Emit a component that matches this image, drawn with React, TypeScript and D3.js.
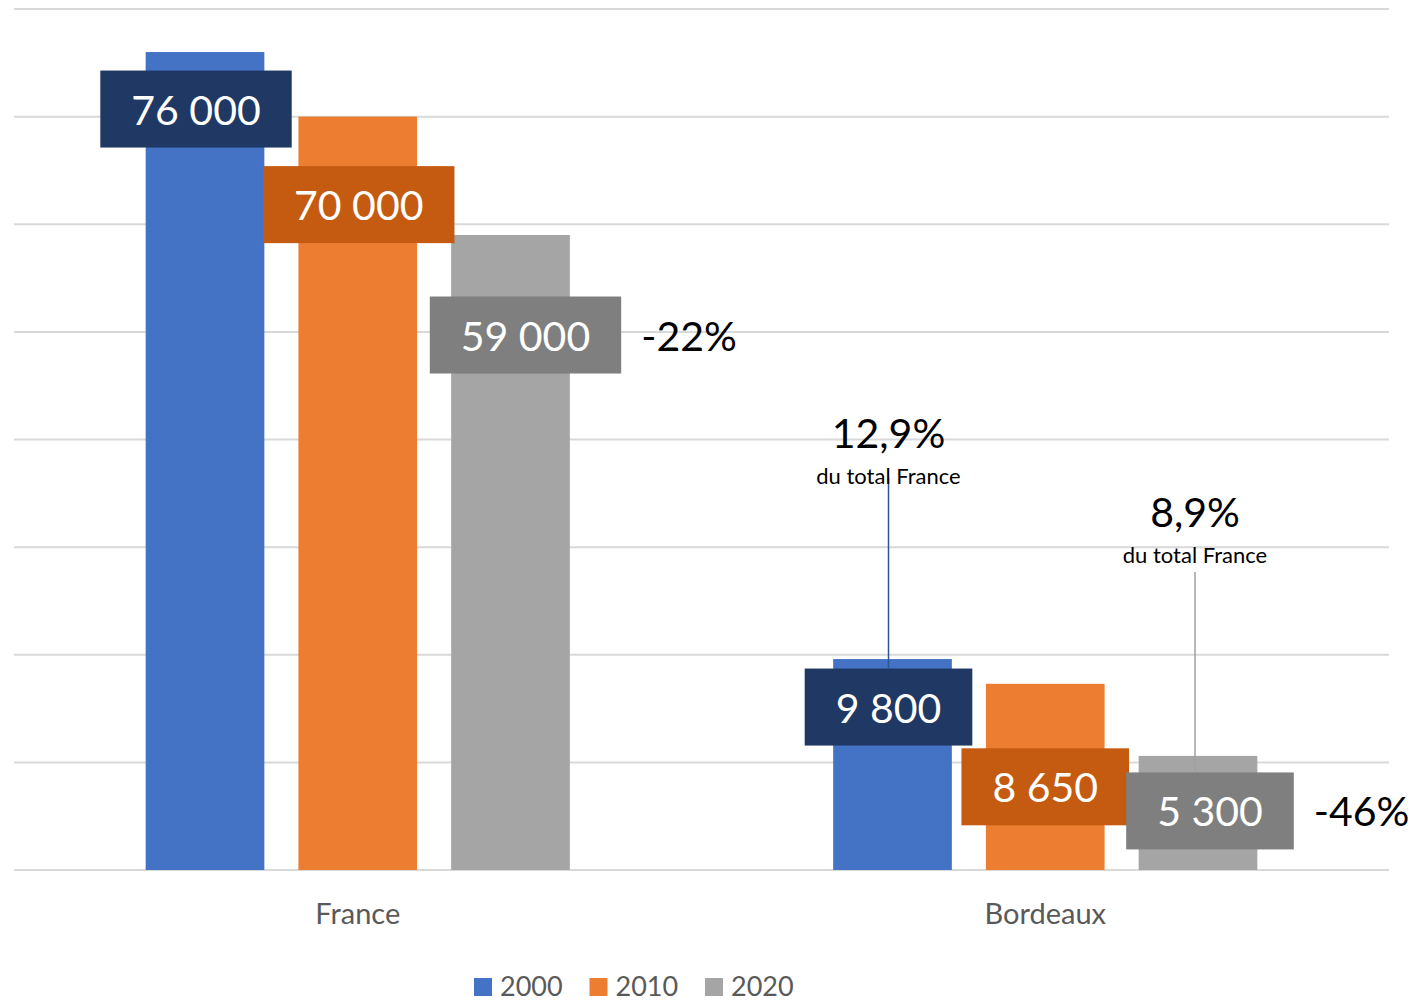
import React, { useEffect, useRef } from 'react';
import * as d3 from 'd3';

// Données
const categories = ['France', 'Bordeaux'];
const series = ['2000', '2010', '2020'];
const franceValues = [76000, 70000, 59000];
const bordeauxValues = [9800, 8650, 5300];
const valueLabels = [
  ['76 000', '70 000', '59 000'],
  ['9 800', '8 650', '5 300'],
];
const evolutionLabels = ['-22%', '-46%'];
const shareLabels = ['12,9%', '8,9%'];
const shareSubLabel = 'du total France';
const gridTicks = [0, 10000, 20000, 30000, 40000, 50000, 60000, 70000, 80000];

const barColors = ['#4472c4', '#ed7d31', '#a5a5a5'];
const boxColors = ['#203864', '#c55a11', '#7f7f7f'];
const FONT = 'Lato, "Open Sans", sans-serif';

// décalages manuels des étiquettes (comme dans le classeur d'origine)
const labelNudge = [
  [[-9, 57], [1, 88], [15, 100]],
  [[-4, 48], [0, 103], [12, 55]],
];

const W = 1417;
const H = 1002;

const App: React.FC = () => {
  const svgRef = useRef<SVGSVGElement>(null);

  useEffect(() => {
    if (!svgRef.current) return;
    const svg = d3.select(svgRef.current);
    svg.selectAll('*').remove();

    const left = 14;
    const right = 1389;
    const top = 9;
    const bottom = 870;

    const x0 = d3.scaleBand<string>().domain(categories).range([left, right]);
    const x1 = d3.scaleBand<string>()
      .domain(series)
      .range([0, x0.bandwidth()])
      .paddingInner(0.223)
      .paddingOuter(0.862);

    // axe principal (France) et axe secondaire (Bordeaux)
    const yMain = d3.scaleLinear().domain([0, 80000]).range([bottom, top]);
    const ySecond = d3.scaleLinear().domain([0, 40000]).range([bottom, top]);
    const scales = [yMain, ySecond];
    const values = [franceValues, bordeauxValues];

    // Grille
    svg.append('g')
      .selectAll('line')
      .data(gridTicks)
      .enter()
      .append('line')
      .attr('x1', left)
      .attr('x2', right)
      .attr('y1', (d) => yMain(d))
      .attr('y2', (d) => yMain(d))
      .attr('stroke', '#d9d9d9')
      .attr('stroke-width', 2);

    // Barres
    categories.forEach((cat, ci) => {
      const g = svg.append('g').attr('transform', `translate(${x0(cat)},0)`);
      g.selectAll('rect')
        .data(values[ci])
        .enter()
        .append('rect')
        .attr('x', (_, i) => x1(series[i])!)
        .attr('width', x1.bandwidth())
        .attr('y', (d) => scales[ci](d))
        .attr('height', (d) => bottom - scales[ci](d))
        .attr('fill', (_, i) => barColors[i]);
    });

    // Lignes de repère des parts
    const shareSeries = [0, 2];
    const shareNudge = [[-4, 432], [-3, 511]];
    const shareLineColors = ['#2f5597', '#a0a0a0'];
    const boxTops: number[] = [];

    // Étiquettes de valeur
    const boxRights: number[][] = [[], []];
    const boxCenters: number[][] = [[], []];
    categories.forEach((cat, ci) => {
      values[ci].forEach((v, i) => {
        const cx = x0(cat)! + x1(series[i])! + x1.bandwidth() / 2 + labelNudge[ci][i][0];
        const cy = scales[ci](v) + labelNudge[ci][i][1];
        const lg = svg.append('g');
        const rect = lg.append('rect').attr('fill', boxColors[i]);
        const txt = lg.append('text')
          .attr('x', cx)
          .attr('y', cy)
          .attr('text-anchor', 'middle')
          .attr('dominant-baseline', 'central')
          .attr('font-family', FONT)
          .attr('font-size', 41)
          .attr('fill', '#ffffff')
          .text(valueLabels[ci][i]);
        const tw = (txt.node() as SVGTextElement).getComputedTextLength();
        const bw = tw + 62;
        const bh = 77;
        rect.attr('x', cx - bw / 2).attr('y', cy - bh / 2).attr('width', bw).attr('height', bh);
        boxRights[ci][i] = cx + bw / 2;
        boxCenters[ci][i] = cy;
        if (ci === 1) boxTops[i] = cy - bh / 2;
      });
    });

    // Évolutions
    categories.forEach((_, ci) => {
      svg.append('text')
        .attr('x', boxRights[ci][2] + 20)
        .attr('y', boxCenters[ci][2])
        .attr('dominant-baseline', 'central')
        .attr('font-family', FONT)
        .attr('font-size', 41)
        .attr('fill', '#000000')
        .text(evolutionLabels[ci]);
    });

    // Parts du total France
    shareSeries.forEach((si, k) => {
      const cx = x0('Bordeaux')! + x1(series[si])! + x1.bandwidth() / 2 + shareNudge[k][0];
      const cy = shareNudge[k][1];
      svg.append('line')
        .attr('x1', cx)
        .attr('x2', cx)
        .attr('y1', cy + 46 + (k === 0 ? 0 : 15))
        .attr('y2', boxTops[si])
        .attr('stroke', shareLineColors[k])
        .attr('stroke-width', 1.5);
      svg.append('text')
        .attr('x', cx)
        .attr('y', cy)
        .attr('text-anchor', 'middle')
        .attr('dominant-baseline', 'central')
        .attr('font-family', FONT)
        .attr('font-size', 41)
        .attr('fill', '#000000')
        .text(shareLabels[k]);
      svg.append('text')
        .attr('x', cx)
        .attr('y', cy + 43)
        .attr('text-anchor', 'middle')
        .attr('dominant-baseline', 'central')
        .attr('font-family', FONT)
        .attr('font-size', 22)
        .attr('fill', '#000000')
        .text(shareSubLabel);
    });

    // Catégories
    svg.append('g')
      .selectAll('text')
      .data(categories)
      .enter()
      .append('text')
      .attr('x', (d) => x0(d)! + x0.bandwidth() / 2)
      .attr('y', 912)
      .attr('text-anchor', 'middle')
      .attr('dominant-baseline', 'central')
      .attr('font-family', FONT)
      .attr('font-size', 29)
      .attr('fill', '#595959')
      .text((d) => d);

    // Légende
    const legend = svg.append('g');
    const legendX = d3.scalePoint<string>().domain(series).range([474, 705]);
    series.forEach((s, i) => {
      const lx = legendX(s)!;
      legend.append('rect')
        .attr('x', lx)
        .attr('y', 978)
        .attr('width', 18)
        .attr('height', 18)
        .attr('fill', barColors[i]);
      legend.append('text')
        .attr('x', lx + 26)
        .attr('y', 985)
        .attr('dominant-baseline', 'central')
        .attr('font-family', FONT)
        .attr('font-size', 27)
        .attr('fill', '#595959')
        .text(s);
    });
  }, []);

  return (
    <div style={{ position: 'fixed', left: 0, top: 0, width: W, height: H, background: '#fff' }}>
      <svg ref={svgRef} width={W} height={H} style={{ display: 'block' }} />
    </div>
  );
};

export default App;
